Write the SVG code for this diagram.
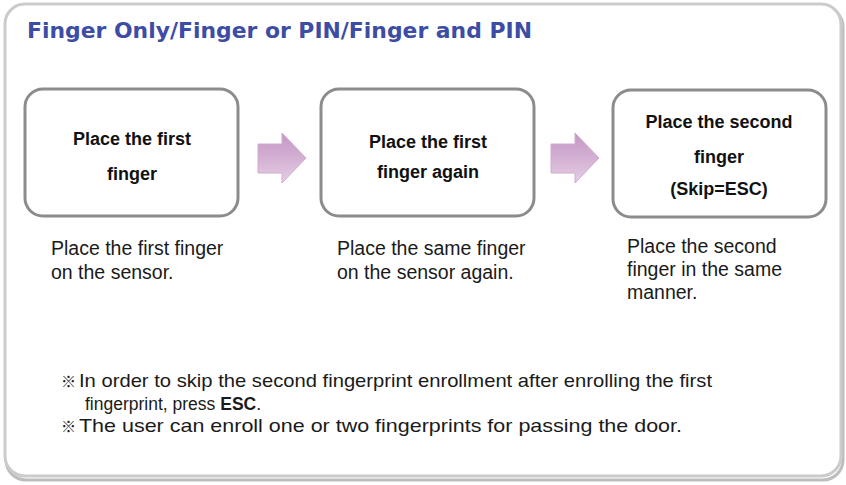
<svg xmlns="http://www.w3.org/2000/svg" width="846" height="485" viewBox="0 0 846 485">
<style>
.frame{fill:#ffffff;stroke:#cbcbcb;stroke-width:3}
.shadow{fill:none;stroke:#bdbdbd;stroke-width:3}
.title{font-family:"DejaVu Sans",Verdana,sans-serif;font-weight:bold;font-size:21px;fill:#3d4ca4}
.box{fill:#ffffff;stroke:#8c8c8c;stroke-width:3}
.btxt{font-family:"Liberation Sans",Arial,sans-serif;font-weight:bold;font-size:18px;fill:#111111;text-anchor:middle}
.desc{font-family:"Liberation Sans",Arial,sans-serif;font-size:19.5px;fill:#1a1a1a}
.note{font-family:"Liberation Sans",Arial,sans-serif;font-size:19px;fill:#1a1a1a}
.note2{font-family:"Liberation Sans",Arial,sans-serif;font-size:17.5px;fill:#1a1a1a}
.mark{font-family:"Noto Sans CJK KR","Noto Sans CJK JP",sans-serif;font-size:15px;fill:#1a1a1a}
.arrow{fill:url(#ag);stroke:#cfaccf;stroke-width:1}
</style>
<defs>
<linearGradient id="ag" x1="0" y1="0" x2="0" y2="1">
<stop offset="0" stop-color="#c596c5"/>
<stop offset="0.5" stop-color="#d3b0d3"/>
<stop offset="1" stop-color="#e6cfe6"/>
</linearGradient>
</defs>
<g id="frame">
<rect class="shadow" x="6" y="7" width="837" height="473" rx="20"/>
<rect class="frame" x="5" y="4" width="836" height="472" rx="20"/>
</g>
<g id="title">
<text class="title" x="27" y="38" textLength="505" lengthAdjust="spacingAndGlyphs">Finger Only/Finger or PIN/Finger and PIN</text>
</g>
<g id="node1">
<rect class="box" x="25" y="89" width="213" height="127" rx="18"/>
<text class="btxt" x="132" y="145">Place the first</text>
<text class="btxt" x="132" y="180">finger</text>
<text class="desc" x="51" y="255">Place the first finger</text>
<text class="desc" x="51" y="279">on the sensor.</text>
</g>
<g id="node2">
<rect class="box" x="321" y="89" width="213" height="127" rx="18"/>
<text class="btxt" x="428" y="148">Place the first</text>
<text class="btxt" x="428" y="178">finger again</text>
<text class="desc" x="337" y="255">Place the same finger</text>
<text class="desc" x="337" y="279">on the sensor again.</text>
</g>
<g id="node3">
<rect class="box" x="613" y="90" width="213" height="127" rx="18"/>
<text class="btxt" x="719" y="128">Place the second</text>
<text class="btxt" x="719" y="163">finger</text>
<text class="btxt" x="719" y="195">(Skip=ESC)</text>
<text class="desc" x="627" y="253">Place the second</text>
<text class="desc" x="627" y="276">finger in the same</text>
<text class="desc" x="627" y="299">manner.</text>
</g>
<g id="connectors">
<path class="arrow" d="M258,144 H282 V133 L306,158 L282,183 V173 H258 Z"/>
<path class="arrow" d="M551,144 H575 V133 L599,158 L575,183 V173 H551 Z"/>
</g>
<g id="notes">
<text class="mark" x="61" y="387">※</text>
<text class="note" x="79" y="387" textLength="633" lengthAdjust="spacingAndGlyphs">In order to skip the second fingerprint enrollment after enrolling the first</text>
<text class="note2" x="85" y="410">fingerprint, press <tspan font-weight="bold">ESC</tspan>.</text>
<text class="mark" x="61" y="432">※</text>
<text class="note" x="79" y="432" textLength="603" lengthAdjust="spacingAndGlyphs">The user can enroll one or two fingerprints for passing the door.</text>
</g>
</svg>
